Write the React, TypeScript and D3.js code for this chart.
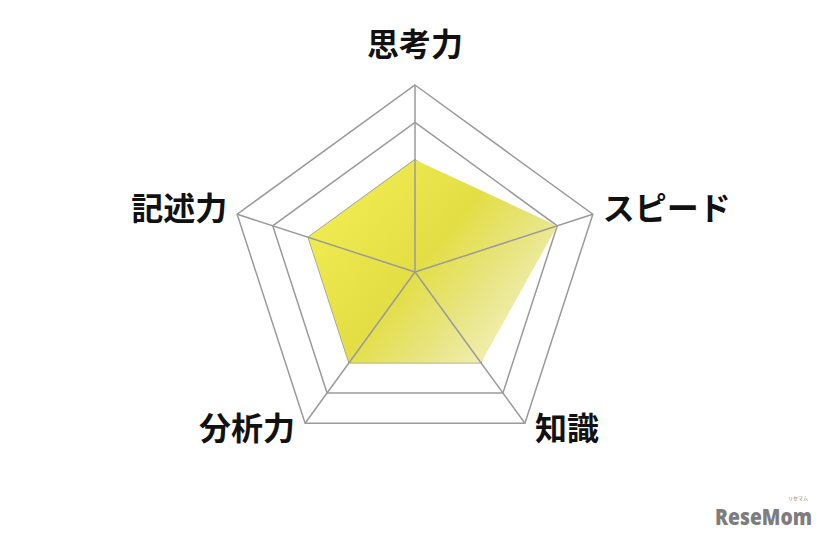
import { useRef, useEffect } from "react";
import { select, scaleLinear, lineRadial, curveLinearClosed, range } from "d3";

// axes, clockwise from the top
const axes = ["思考力", "スピード", "知識", "分析力", "記述力"];
const scores = [3, 4, 3, 3, 3];
const levels = [1, 2, 3, 4, 5];

const W = 826;
const H = 538;
const cx = 415;
const cy = 272;
const R = 187;

export default function App() {
  const svgRef = useRef<SVGSVGElement>(null);

  useEffect(() => {
    const svg = select(svgRef.current);
    svg.selectAll("*").remove();

    const rScale = scaleLinear().domain([0, 5]).range([0, R]);
    const angle = (i: number) => (i * 2 * Math.PI) / axes.length;

    // gradient in the chart group's local coords (origin = centre)
    const grad = svg
      .append("defs")
      .append("linearGradient")
      .attr("id", "fillGrad")
      .attr("gradientUnits", "userSpaceOnUse")
      .attr("x1", -115)
      .attr("y1", -95)
      .attr("x2", 110)
      .attr("y2", 95);
    grad.append("stop").attr("offset", 0).attr("stop-color", "#f5f055");
    grad.append("stop").attr("offset", 0.5).attr("stop-color", "#e3de44");
    grad.append("stop").attr("offset", 0.72).attr("stop-color", "#e8e584");
    grad.append("stop").attr("offset", 1).attr("stop-color", "#f7f5d0");

    const g = svg.append("g").attr("transform", `translate(${cx},${cy})`);

    const ring = lineRadial<number>()
      .angle((_, i) => angle(i))
      .radius((d) => rScale(d))
      .curve(curveLinearClosed);

    // grid rings (lower ones sit under the fill)
    g.selectAll(".ring")
      .data(levels)
      .join("path")
      .attr("class", "ring")
      .attr("d", (lv) => ring(axes.map(() => lv)))
      .attr("fill", "none")
      .attr("stroke", "#9a9a9a")
      .attr("stroke-width", 1.5);

    // data area
    g.append("path")
      .attr("d", ring(scores))
      .attr("fill", "url(#fillGrad)");

    // spokes
    g.selectAll(".spoke")
      .data(range(axes.length))
      .join("line")
      .attr("class", "spoke")
      .attr("x1", 0)
      .attr("y1", 0)
      .attr("x2", (i) => rScale(5) * Math.sin(angle(i)))
      .attr("y2", (i) => -rScale(5) * Math.cos(angle(i)))
      .attr("stroke", "#9a9a9a")
      .attr("stroke-width", 1.5);

    // labels
    g.selectAll(".label")
      .data(axes)
      .join("text")
      .attr("class", "label")
      .text((d) => d)
      .attr("x", (_, i) => {
        const s = Math.sin(angle(i));
        const x = rScale(5) * s;
        if (Math.abs(s) < 0.01) return x;
        return x + (s > 0 ? 10 : -10);
      })
      .attr("y", (_, i) => {
        const c = Math.cos(angle(i));
        if (c > 0.99) return -rScale(5) - 43;
        return -rScale(5) * c + (c > 0 ? -8 : 3);
      })
      .attr("text-anchor", (_, i) => {
        const s = Math.sin(angle(i));
        return Math.abs(s) < 0.01 ? "middle" : s > 0 ? "start" : "end";
      })
      .attr("dominant-baseline", "central")
      .attr("font-family", "'Noto Sans CJK JP', sans-serif")
      .attr("font-weight", 700)
      .attr("font-size", 32)
      .attr("fill", "#111");

    // watermark
    const wm = svg.append("g").attr("fill", "#7d7d7d");
    wm.append("text")
      .attr("x", 715)
      .attr("y", 525)
      .attr("font-family", "'Open Sans', sans-serif")
      .attr("font-weight", 800)
      .attr("font-size", 22)
      .attr("textLength", 97)
      .attr("lengthAdjust", "spacingAndGlyphs")
      .text("ReseMom");
    wm.append("text")
      .attr("x", 798)
      .attr("y", 500)
      .attr("text-anchor", "middle")
      .attr("font-family", "'Noto Sans CJK JP', sans-serif")
      .attr("font-size", 5)
      .text("リセマム");
  }, []);

  return (
    <svg
      ref={svgRef}
      width={W}
      height={H}
      style={{ position: "absolute", left: 0, top: 0, background: "#fff" }}
    />
  );
}
